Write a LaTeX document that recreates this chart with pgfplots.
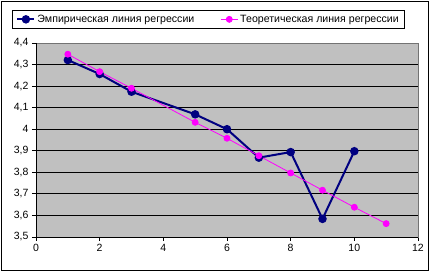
\documentclass[border=0pt]{standalone}
\usepackage{pgfplots}
\pgfplotsset{compat=1.18}
\usepackage{fontspec}
\setmainfont{Liberation Sans}
\definecolor{plotgray}{HTML}{C0C0C0}
\definecolor{empnavy}{HTML}{000080}
\definecolor{theomag}{HTML}{FF00FF}
\begin{document}
\begin{tikzpicture}
\begin{axis}[
  scale only axis,
  width=382pt, height=194pt,
  xmin=0, xmax=12, ymin=3.5, ymax=4.4,
  xtick={0,2,...,12},
  ytick={3.5,3.6,3.7,3.8,3.9,4.0,4.1,4.2,4.3,4.4},
  /pgf/number format/.cd, use comma, assume math mode=true,
  /pgfplots/.cd,
  axis background/.style={fill=plotgray},
  axis line style={draw=gray!90!black},
  ymajorgrids, grid style={black, line width=0.8pt},
  xtick pos=left, ytick pos=left,
  tick align=outside, major tick length=4pt,
  tick style={black, line width=0.8pt},
  tick label style={font=\fontsize{10.5}{12}\selectfont},
  clip=false,
  legend columns=2,
  legend style={at={(rel axis cs:0,1)}, anchor=north west, xshift=-24pt, yshift=33pt,
    draw=black, line width=0.8pt, font=\fontsize{10.6}{12}\selectfont,
    inner xsep=4pt, inner ysep=2.5pt, /tikz/every even column/.append style={column sep=24pt}},
  legend cell align=left,
]
\addplot[empnavy, line width=2pt, mark=*, mark size=3.2pt, mark options={fill=empnavy, draw=empnavy}]
  coordinates {(1,4.321) (2,4.256) (3,4.174) (5,4.069) (6,4.000) (7,3.868) (8,3.894) (9,3.584) (10,3.898)};
\addlegendentry{Эмпирическая линия регрессии}
\addplot[theomag, line width=0.8pt, mark=*, mark size=3pt, mark options={fill=theomag, draw=theomag}]
  coordinates {(1,4.348) (2,4.267) (3,4.190) (5,4.032) (6,3.958) (7,3.877) (8,3.797) (9,3.717) (10,3.638) (11,3.562)};
\addlegendentry{Теоретическая линия регрессии}
\draw[black, line width=0.8pt] (rel axis cs:0,1) -- (rel axis cs:0,0) -- (rel axis cs:1,0);
\draw[black, line width=0.8pt] ([xshift=-35pt,yshift=-33pt]rel axis cs:0,0) rectangle ([xshift=10pt,yshift=42pt]rel axis cs:1,1);
\path ([xshift=-36pt,yshift=-34pt]rel axis cs:0,0) rectangle ([xshift=11pt,yshift=43pt]rel axis cs:1,1);
\end{axis}
\end{tikzpicture}
\end{document}
